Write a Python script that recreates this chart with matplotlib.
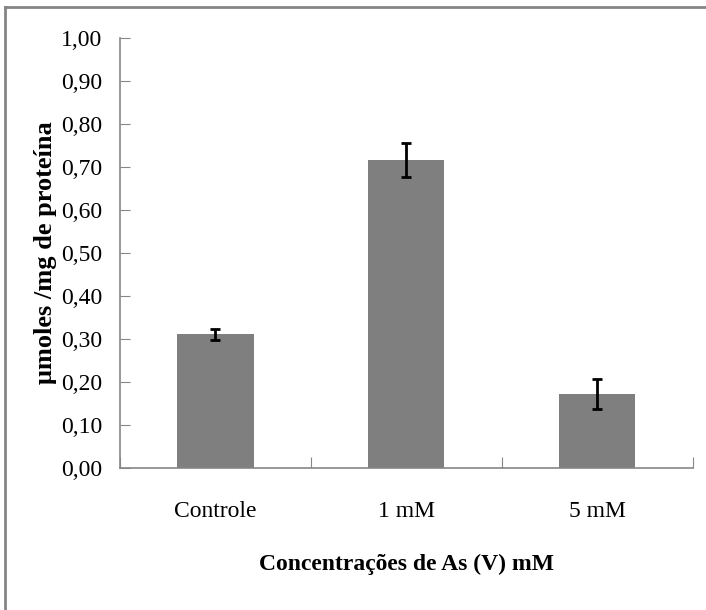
import matplotlib
matplotlib.use("Agg")
from matplotlib import pyplot as plt
from matplotlib.lines import Line2D

# Dados do ensaio
categorias = ["Controle", "1 mM", "5 mM"]
medias = [0.310, 0.716, 0.171]
erros = [0.012, 0.040, 0.035]
yticks = [0.0, 0.1, 0.2, 0.3, 0.4, 0.5, 0.6, 0.7, 0.8, 0.9, 1.0]

plt.rcParams["font.family"] = ["Liberation Serif", "DejaVu Serif"]

fig = plt.figure(figsize=(7.06, 6.10), dpi=100)
ax = fig.add_axes([0.170, 0.2333, 0.811, 0.7044])

x = range(len(categorias))
ax.bar(x, medias, width=0.40, color="#7f7f7f", zorder=2)
ax.errorbar(x, medias, yerr=erros, fmt="none", ecolor="black",
            elinewidth=2, capsize=3.5, capthick=2, zorder=3)

ax.set_xlim(-0.5, 2.5)
ax.set_ylim(0, 1.0)
ax.set_yticks(yticks)
ax.set_yticklabels([f"{v:.2f}".replace(".", ",") for v in yticks], fontsize=17)

# divisões entre categorias no eixo x
ax.set_xticks([-0.5, 0.5, 1.5, 2.5])
ax.set_xticklabels([])
ax.set_xticks(list(x), minor=True)
ax.set_xticklabels(categorias, minor=True, fontsize=17)
ax.tick_params(axis="x", which="minor", length=0, pad=24)
ax.tick_params(axis="x", which="major", direction="in", length=8,
               color="#868686")
ax.tick_params(axis="y", direction="in", length=7, color="#868686", pad=13)

for lado in ["top", "right"]:
    ax.spines[lado].set_visible(False)
for lado in ["left", "bottom"]:
    ax.spines[lado].set_color("#868686")
    ax.spines[lado].set_linewidth(1.2)

ax.set_ylabel("μmoles /mg de proteína", fontsize=19, fontweight="bold",
              labelpad=3)
ax.set_xlabel("Concentrações de As (V) mM", fontsize=17, fontweight="bold",
              labelpad=23)

# moldura do gráfico
fig.add_artist(Line2D([5 / 706, 1.0], [1 - 7 / 610, 1 - 7 / 610],
                      transform=fig.transFigure, color="#858585", lw=2))
fig.add_artist(Line2D([5 / 706, 5 / 706], [0.0, 1 - 7 / 610],
                      transform=fig.transFigure, color="#858585", lw=2))

fig.savefig("out.png", dpi=100)
